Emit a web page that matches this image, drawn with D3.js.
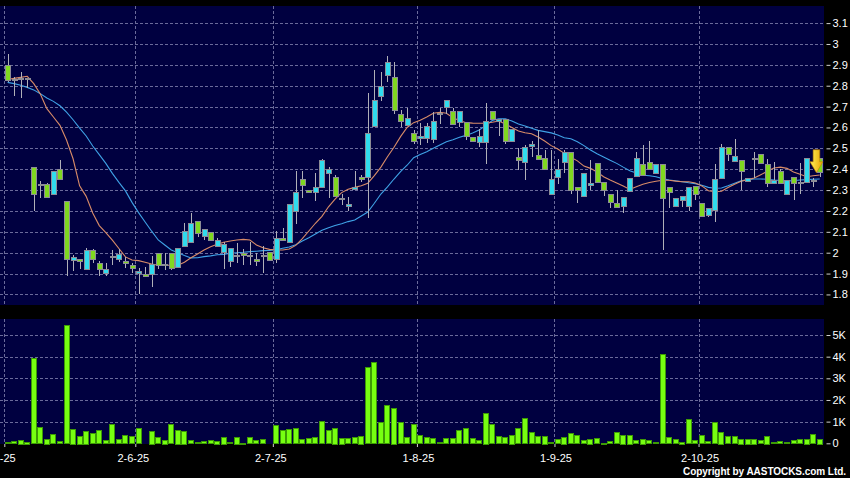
<!DOCTYPE html>
<html><head><meta charset="utf-8">
<script src="https://cdn.jsdelivr.net/npm/d3@7"></script>
<style>body{margin:0;background:#000;overflow:hidden}svg{display:block}</style>
</head><body><svg id="c" width="850" height="478"></svg>
<script>
const opens=[2.90,2.83,2.83,2.835,2.41,2.33,2.33,2.28,2.40,2.25,1.968,1.97,1.92,2.013,1.95,1.90,1.984,1.968,1.96,1.941,1.90,1.90,1.90,2.00,1.944,2.00,1.928,2.032,2.05,2.152,2.08,2.10,2.032,2.00,1.96,1.99,2.00,1.99,1.97,1.99,2.005,1.968,2.069,2.05,2.20,2.352,2.30,2.289,2.313,2.38,2.361,2.26,2.224,2.305,2.361,2.361,2.609,2.752,2.848,2.84,2.663,2.609,2.572,2.553,2.553,2.543,2.668,2.70,2.68,2.625,2.628,2.553,2.532,2.532,2.68,2.631,2.641,2.535,2.46,2.436,2.508,2.47,2.452,2.28,2.361,2.433,2.481,2.313,2.272,2.324,2.431,2.34,2.28,2.24,2.224,2.30,2.364,2.424,2.433,2.38,2.424,2.313,2.224,2.253,2.224,2.32,2.24,2.18,2.205,2.361,2.508,2.44,2.444,2.348,2.452,2.473,2.424,2.333,2.391,2.28,2.361,2.34,2.335,2.345,2.452];
const highs=[2.95,2.84,2.865,2.835,2.41,2.343,2.335,2.39,2.444,2.25,1.99,1.97,2.024,2.02,1.96,1.95,2.013,2.02,1.98,1.95,1.925,1.933,1.984,2.00,2.00,2.00,2.021,2.144,2.189,2.152,2.112,2.10,2.069,2.053,2.021,2.048,2.02,2.053,1.997,2.03,2.005,2.104,2.12,2.232,2.391,2.39,2.30,2.38,2.45,2.41,2.372,2.28,2.268,2.39,2.372,2.764,2.875,2.867,2.943,2.912,2.684,2.692,2.588,2.62,2.62,2.673,2.695,2.732,2.695,2.68,2.628,2.553,2.593,2.716,2.68,2.641,2.641,2.593,2.50,2.516,2.535,2.588,2.492,2.49,2.447,2.49,2.481,2.313,2.38,2.444,2.431,2.34,2.28,2.30,2.268,2.36,2.484,2.516,2.535,2.424,2.424,2.313,2.26,2.272,2.313,2.32,2.24,2.213,2.424,2.519,2.508,2.543,2.444,2.36,2.484,2.473,2.45,2.436,2.40,2.348,2.361,2.428,2.452,2.36,2.452];
const lows=[2.82,2.75,2.74,2.79,2.20,2.26,2.26,2.28,2.35,1.89,1.91,1.92,1.92,1.95,1.888,1.89,1.94,1.957,1.928,1.904,1.80,1.89,1.837,1.92,1.917,1.917,1.928,2.032,2.05,2.077,2.061,2.061,2.032,1.92,1.93,1.949,1.94,1.94,1.938,1.904,1.968,1.949,2.061,2.05,2.137,2.26,2.289,2.249,2.313,2.26,2.272,2.23,2.20,2.30,2.34,2.168,2.609,2.728,2.82,2.663,2.60,2.609,2.519,2.516,2.524,2.527,2.617,2.663,2.62,2.604,2.54,2.532,2.508,2.424,2.644,2.559,2.519,2.535,2.396,2.348,2.46,2.449,2.40,2.28,2.328,2.38,2.28,2.24,2.272,2.30,2.34,2.27,2.213,2.22,2.189,2.30,2.364,2.372,2.40,2.38,2.013,2.213,2.224,2.22,2.20,2.253,2.18,2.17,2.149,2.361,2.44,2.44,2.30,2.348,2.356,2.431,2.313,2.333,2.333,2.28,2.253,2.28,2.335,2.313,2.361];
const closes=[2.83,2.83,2.835,2.83,2.28,2.33,2.27,2.39,2.35,1.97,1.98,1.96,2.013,1.968,1.92,1.92,1.984,1.992,1.949,1.928,1.911,1.89,1.946,1.941,1.948,1.928,2.021,2.104,2.141,2.093,2.112,2.061,2.061,2.04,2.021,1.99,1.992,1.99,1.96,1.99,1.968,2.069,2.061,2.232,2.289,2.321,2.289,2.313,2.444,2.40,2.272,2.26,2.233,2.315,2.352,2.572,2.732,2.80,2.912,2.68,2.628,2.644,2.532,2.561,2.609,2.631,2.668,2.732,2.62,2.68,2.561,2.532,2.561,2.631,2.644,2.641,2.535,2.593,2.444,2.508,2.519,2.449,2.40,2.352,2.40,2.481,2.30,2.30,2.38,2.333,2.34,2.30,2.24,2.22,2.268,2.36,2.452,2.372,2.40,2.424,2.26,2.289,2.26,2.272,2.313,2.28,2.18,2.213,2.352,2.508,2.473,2.463,2.391,2.36,2.452,2.431,2.333,2.348,2.333,2.348,2.333,2.34,2.452,2.348,2.383];
const volumesK=[0.06,0.10,0.17,0.08,3.92,0.75,0.21,0.41,0.09,5.46,0.68,0.35,0.58,0.46,0.60,0.15,0.89,0.18,0.37,0.34,0.69,0.02,0.58,0.29,0.17,0.88,0.63,0.58,0.14,0.06,0.10,0.14,0.12,0.31,0.06,0.31,0.03,0.29,0.15,0.20,0.02,0.85,0.62,0.66,0.69,0.20,0.25,0.29,1.03,0.62,0.72,0.26,0.25,0.29,0.35,3.52,3.76,0.99,1.76,1.65,0.97,0.28,0.89,0.37,0.28,0.25,0.04,0.25,0.25,0.62,0.71,0.25,0.15,1.42,0.88,0.32,0.29,0.40,0.71,1.17,0.52,0.34,0.35,0.04,0.20,0.31,0.47,0.37,0.15,0.21,0.25,0.03,0.09,0.52,0.40,0.40,0.15,0.22,0.14,0.06,4.12,0.29,0.18,0.08,1.12,0.15,0.37,0.10,0.99,0.54,0.34,0.34,0.21,0.22,0.22,0.15,0.35,0.05,0.09,0.06,0.15,0.20,0.22,0.42,0.22];
const ma10=[2.83,2.835,2.84,2.845,2.81,2.76,2.69,2.65,2.61,2.54,2.45,2.32,2.27,2.19,2.13,2.096,2.06,2.02,1.98,1.965,1.962,1.954,1.946,1.94,1.94,1.94,1.94,1.954,1.976,1.994,2.013,2.029,2.04,2.05,2.056,2.061,2.064,2.061,2.037,2.024,2.016,2.013,2.013,2.018,2.035,2.067,2.104,2.141,2.174,2.22,2.257,2.288,2.304,2.313,2.321,2.333,2.369,2.41,2.46,2.505,2.556,2.60,2.623,2.635,2.65,2.668,2.673,2.668,2.647,2.633,2.623,2.621,2.62,2.62,2.625,2.631,2.617,2.60,2.583,2.575,2.57,2.554,2.535,2.513,2.497,2.476,2.457,2.44,2.415,2.404,2.387,2.364,2.348,2.334,2.32,2.303,2.316,2.328,2.336,2.342,2.347,2.347,2.343,2.34,2.34,2.334,2.32,2.297,2.292,2.294,2.312,2.328,2.342,2.35,2.358,2.374,2.39,2.406,2.41,2.404,2.387,2.376,2.364,2.369,2.372];
const ma20=[2.816,2.81,2.802,2.792,2.78,2.762,2.741,2.725,2.704,2.673,2.637,2.597,2.559,2.511,2.47,2.428,2.38,2.337,2.296,2.241,2.192,2.147,2.103,2.061,2.037,2.013,2.0,1.987,1.975,1.976,1.981,1.985,1.99,1.992,1.997,2.0,2.002,2.005,2.007,2.01,2.011,2.014,2.021,2.027,2.038,2.056,2.072,2.09,2.107,2.12,2.13,2.139,2.149,2.157,2.176,2.195,2.237,2.281,2.315,2.353,2.388,2.419,2.455,2.47,2.484,2.50,2.516,2.532,2.541,2.553,2.562,2.574,2.588,2.609,2.633,2.642,2.641,2.631,2.617,2.607,2.596,2.586,2.58,2.574,2.564,2.551,2.546,2.532,2.513,2.492,2.474,2.459,2.443,2.428,2.41,2.393,2.382,2.371,2.369,2.364,2.355,2.348,2.345,2.34,2.335,2.331,2.323,2.313,2.309,2.31,2.321,2.333,2.344,2.35,2.353,2.353,2.352,2.348,2.346,2.344,2.345,2.348,2.35,2.352,2.353];
const monthIdx=[0,20,41,63,84,106];
const monthLabels=["2-5-25","2-6-25","2-7-25","1-8-25","1-9-25","2-10-25"];
const priceTicks=[1.8,1.9,2.0,2.1,2.2,2.3,2.4,2.5,2.6,2.7,2.8,2.9,3.0,3.1];
const priceTickLabels=["1.8","1.9","2","2.1","2.2","2.3","2.4","2.5","2.6","2.7","2.8","2.9","3","3.1"];
const volTicks=[0,1,2,3,4,5];
const volTickLabels=["0","1K","2K","3K","4K","5K"];

const N=closes.length;
const svg=d3.select("#c");
svg.append("rect").attr("width",850).attr("height",478).attr("fill","#000");
const L=4.3,R=823;
const P={top:6,bottom:305}, V={top:319,bottom:444};
const xb=d3.scaleBand().domain(d3.range(N)).range([L,R]).paddingInner(0.2).paddingOuter(0.1);
const xs=d3.scaleLinear().domain([0,N]).range([L,R]);
const cx=i=>xb(i)+xb.bandwidth()/2;
const y=d3.scaleLinear().domain([2.0,3.1]).range([252.7,23.1]);
const yv=d3.scaleLinear().domain([0,5]).range([443.3,335]);
const grid="#6a6a9a";

svg.append("rect").attr("x",0).attr("y",P.top).attr("width",R+1).attr("height",P.bottom-P.top).attr("fill","#000040");
svg.append("rect").attr("x",0).attr("y",V.top).attr("width",R+1).attr("height",V.bottom-V.top).attr("fill","#000040");

const g=svg.append("g").attr("shape-rendering","crispEdges");
g.selectAll("line.hp").data(priceTicks).join("line").attr("x1",0).attr("x2",R)
 .attr("y1",d=>Math.round(y(d))+0.5).attr("y2",d=>Math.round(y(d))+0.5)
 .attr("stroke",grid).attr("stroke-dasharray","3,2");
g.selectAll("line.hv").data(volTicks.slice(1)).join("line").attr("x1",0).attr("x2",R)
 .attr("y1",d=>Math.round(yv(d))+0.5).attr("y2",d=>Math.round(yv(d))+0.5)
 .attr("stroke",grid).attr("stroke-dasharray","3,2");
monthIdx.forEach(i=>{
  const xx=Math.round(xs(i))+0.5;
  [[P.top,P.bottom],[V.top,V.bottom]].forEach(([a,b])=>{
    g.append("line").attr("x1",xx).attr("x2",xx).attr("y1",a).attr("y2",b)
     .attr("stroke",grid).attr("stroke-dasharray","3,2");
  });
});

// MA lines
const line=d3.line().x((d,i)=>cx(i)).y(d=>y(d));
svg.append("path").attr("d",line(ma20)).attr("fill","none").attr("stroke","#3fa2e6").attr("stroke-width",1.1);
svg.append("path").attr("d",line(ma10)).attr("fill","none").attr("stroke","#d98c68").attr("stroke-width",1.1);

// candles
const cg=svg.append("g").attr("shape-rendering","crispEdges");
const bw=5;
d3.range(N).forEach(i=>{
  const c=cx(i);
  const xc=Math.round(c)+0.5;
  cg.append("line").attr("x1",xc).attr("x2",xc).attr("y1",y(highs[i])).attr("y2",y(lows[i])).attr("stroke","#b0b0b8");
  const up=closes[i]>=opens[i];
  const top=y(Math.max(opens[i],closes[i])), bot=y(Math.min(opens[i],closes[i]));
  cg.append("rect").attr("x",Math.round(c-bw/2)+0.5).attr("y",Math.round(top)+0.5)
    .attr("width",bw).attr("height",Math.max(1,Math.round(bot-top)))
    .attr("fill",up?"#30dcee":"#80d820").attr("stroke","#8c8c96");
});

// arrow at last close
const ax=xs(N-1), tip=y(closes[N-1]);
const grad=svg.append("defs").append("linearGradient").attr("id","ag").attr("x1","0").attr("x2","1").attr("y1","0").attr("y2","0");
grad.append("stop").attr("offset","0").attr("stop-color","#fff25a");
grad.append("stop").attr("offset","1").attr("stop-color","#e6a200");
svg.append("path").attr("d",`M${ax-3.3},${tip-23} L${ax+3.3},${tip-23} L${ax+3.3},${tip-11} L${ax+6.5},${tip-11} L${ax},${tip} L${ax-6.5},${tip-11} L${ax-3.3},${tip-11} Z`)
  .attr("fill","url(#ag)").attr("stroke","#c08000").attr("stroke-width",0.6);

// volume bars
const vg=svg.append("g").attr("shape-rendering","crispEdges");
vg.selectAll("rect").data(volumesK).join("rect")
  .attr("x",(d,i)=>Math.round(cx(i)-3)+0.5).attr("width",5)
  .attr("y",d=>Math.round(yv(d))+0.5).attr("height",d=>Math.max(0,Math.round(yv(0)-yv(d))))
  .attr("fill","#77ff11").attr("stroke","#3d9a05");

// right axes
const fnt="Liberation Sans, Arial, sans-serif";
function styleAxis(sel){
  sel.select(".domain").remove();
  sel.selectAll("line").attr("stroke","#d0d0d0");
  sel.selectAll("text").attr("fill","#ffffff").style("font-family",fnt).style("font-size","11px");
}
svg.append("g").attr("transform","translate(826.5,0)")
  .call(d3.axisRight(y).tickValues(priceTicks).tickFormat((d,i)=>priceTickLabels[i]).tickSize(4).tickPadding(2))
  .call(styleAxis);
svg.append("g").attr("transform","translate(826.5,0)")
  .call(d3.axisRight(yv).tickValues(volTicks).tickFormat((d,i)=>volTickLabels[i]).tickSize(4).tickPadding(2))
  .call(styleAxis);
// bottom date axis
const dax=svg.append("g").attr("transform",`translate(0,${V.bottom})`)
  .call(d3.axisBottom(xs).tickValues(monthIdx).tickFormat((d,i)=>monthLabels[i]).tickSize(3).tickPadding(7))
  .call(styleAxis);
dax.selectAll(".tick text").attr("dx",(d,i)=>i===0?"-5":(i<3?"-2.5":"1"));

svg.append("text").attr("x",846).attr("y",475).attr("text-anchor","end")
  .attr("fill","#ffffff").style("font-family",fnt).style("font-size","10px").style("font-weight","bold")
  .attr("textLength",163).attr("lengthAdjust","spacing").text("Copyright by AASTOCKS.com Ltd.");
</script></body></html>
